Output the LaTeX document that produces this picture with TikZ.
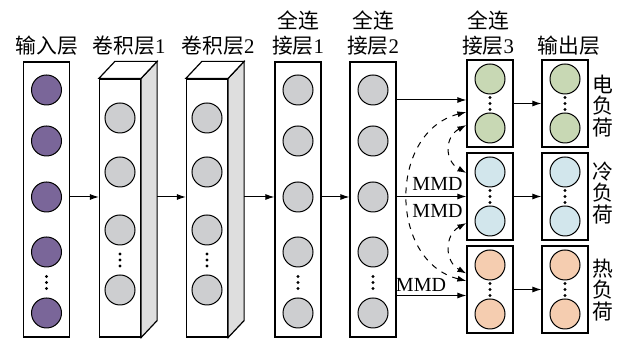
\documentclass[tikz,border=0pt]{standalone}
\usepackage{fontspec}
\setmainfont{Liberation Serif}
\newfontfamily\cjk{Noto Sans CJK SC}
\usetikzlibrary{arrows.meta}
\definecolor{inpurple}{HTML}{7A6699}
\definecolor{hidgray}{HTML}{CDCED0}
\definecolor{sidegray}{HTML}{DEDEDE}
\definecolor{elgreen}{HTML}{C8D8B4}
\definecolor{coblue}{HTML}{D2E6EC}
\definecolor{heorange}{HTML}{F5CDB0}
\begin{document}
\begin{tikzpicture}[
x=0.5pt, y=-0.5pt,
font=\fontsize{10.4}{12.5}\selectfont,
layer/.style={draw, line width=0.6pt, rectangle, fill=white, inner sep=0pt, minimum width=23pt, minimum height=137.5pt},
convbox/.style={draw, line width=0.6pt, rectangle, fill=white, inner sep=0pt, minimum width=20.5pt, minimum height=129pt},
taskbox/.style={draw, line width=0.6pt, rectangle, inner sep=0pt, minimum width=23pt, minimum height=43.5pt},
neuron/.style={draw, line width=0.5pt, circle, inner sep=0pt, minimum size=15pt},
arr/.style={line width=0.5pt, -{Latex[length=4.5pt,width=3pt]}},
mmdarr/.style={line width=0.5pt, dashed, {Latex[length=4.5pt,width=3pt]}-{Latex[length=4.5pt,width=3pt]}},
lbl/.style={align=center, inner sep=0pt},
cn/.style={font=\cjk\fontsize{10.4}{12.5}\selectfont},
cnv/.style={align=center, inner sep=0pt, font=\cjk\fontsize{10.4}{10.8}\selectfont}
]
\useasboundingbox (0,0) rectangle (622,340);

\node[layer] (in) at (46.5,199.5) {};
\node[convbox] (c1) at (120,208) {};
\node[convbox] (c2) at (207,208) {};
\node[layer] (f1) at (298,199.5) {};
\node[layer] (f2) at (373,199.5) {};

\node[taskbox] (f3a) at (490,103.5) {};
\node[taskbox] (f3b) at (490,196.5) {};
\node[taskbox] (f3c) at (490,289.5) {};
\node[taskbox] (oa) at (565,103.5) {};
\node[taskbox] (ob) at (565,196.5) {};
\node[taskbox] (oc) at (565,289.5) {};

\foreach \c in {c1,c2} {
  \filldraw[line width=0.6pt, fill=sidegray] (\c.north east) -- ++(8pt,8.5pt) -- ([shift={(8pt,8.5pt)}]\c.south east) -- (\c.south east) -- cycle;
  \filldraw[line width=0.6pt, fill=white] (\c.north west) -- ++(8pt,8.5pt) -- ([shift={(8pt,8.5pt)}]\c.north east) -- (\c.north east) -- cycle;
}
\coordinate (c1side) at ([xshift=8pt]c1.east);
\coordinate (c2side) at ([xshift=8pt]c2.east);

\foreach \y [count=\i] in {90,141,197,252,313} {
  \node[neuron, fill=inpurple] (in\i) at (46.5,\y) {};
  \node[neuron, fill=hidgray] (fa\i) at (298,\y) {};
  \node[neuron, fill=hidgray] (fb\i) at (373,\y) {};
}
\foreach \y [count=\i] in {118,172,230,290} {
  \node[neuron, fill=hidgray] (ca\i) at (120,\y) {};
  \node[neuron, fill=hidgray] (cb\i) at (207,\y) {};
}
\foreach \b/\col in {a/elgreen,b/coblue,c/heorange} {
  \node[neuron, fill=\col, anchor=center] (t\b1) at ([yshift=12.25pt]f3\b.center) {};
  \node[neuron, fill=\col, anchor=center] (t\b2) at ([yshift=-12.25pt]f3\b.center) {};
  \node[neuron, fill=\col, anchor=center] (o\b1) at ([yshift=12.25pt]o\b.center) {};
  \node[neuron, fill=\col, anchor=center] (o\b2) at ([yshift=-12.25pt]o\b.center) {};
}

\foreach \x in {46.5,298,373}
  \foreach \d in {-6,0,6}
    \fill (\x,282.5+\d) circle (0.8pt);
\foreach \x in {120,207}
  \foreach \d in {-6,0,6}
    \fill (\x,260+\d) circle (0.8pt);
\foreach \x in {490,565}
  \foreach \y in {103.5,196.5,289.5}
    \foreach \d in {-6,0,6}
      \fill (\x,\y+\d) circle (0.8pt);

\node[lbl, cn] (tin) at (47,45.5) {输入层};
\node[lbl, cn] (tc1) at (129,45.5) {卷积层{\rmfamily 1}};
\node[lbl, cn] (tc2) at (218,45.5) {卷积层{\rmfamily 2}};
\node[lbl, cn] (tf1) at (298,33) {全连\\接层{\rmfamily 1}};
\node[lbl, cn] (tf2) at (373,33) {全连\\接层{\rmfamily 2}};
\node[lbl, cn] (tf3) at (488,33) {全连\\接层{\rmfamily 3}};
\node[lbl, cn] (tout) at (569,45.5) {输出层};

\node[cnv] (la) at (603,106) {电\\负\\荷};
\node[cnv] (lb) at (603,193) {冷\\负\\荷};
\node[cnv] (lc) at (603,290) {热\\负\\荷};

\draw[arr] (in3 -| in.east) -- (in3 -| c1.west);
\draw[arr] (in3 -| c1side) -- (in3 -| c2.west);
\draw[arr] (in3 -| c2side) -- (in3 -| f1.west);
\draw[arr] (in3 -| f1.east) -- (in3 -| f2.west);

\draw[arr] ([yshift=1.75pt]f3a.west -| f2.east) -- ([yshift=1.75pt]f3a.west);
\draw[arr] (f3b.west -| f2.east) -- (f3b.west);
\draw[arr] ([yshift=-3pt]f3c.west -| f2.east) -- ([yshift=-3pt]f3c.west);

\draw[arr] (f3a.east) -- (oa.west);
\draw[arr] (f3b.east) -- (ob.west);
\draw[arr] (f3c.east) -- (oc.west);

\draw[mmdarr] ([yshift=-4.25pt]f3a.west) .. controls +(-78,20) and +(-78,-20) .. ([yshift=4.25pt]f3c.west);
\draw[mmdarr] ([yshift=-10.75pt]f3a.west) .. controls +(-22,12) and +(-22,-12) .. ([yshift=11.75pt]f3b.west);
\draw[mmdarr] ([yshift=-13.25pt]f3b.west) .. controls +(-22,12) and +(-22,-12) .. ([yshift=8pt]f3c.west);

\node[lbl, font=\fontsize{10}{12}\selectfont] (mmd1) at (437.5,183.5) {MMD};
\node[lbl, font=\fontsize{10}{12}\selectfont] (mmd2) at (437.5,211) {MMD};
\node[lbl, font=\fontsize{10}{12}\selectfont] (mmd3) at (421,285) {MMD};

\end{tikzpicture}
\end{document}
